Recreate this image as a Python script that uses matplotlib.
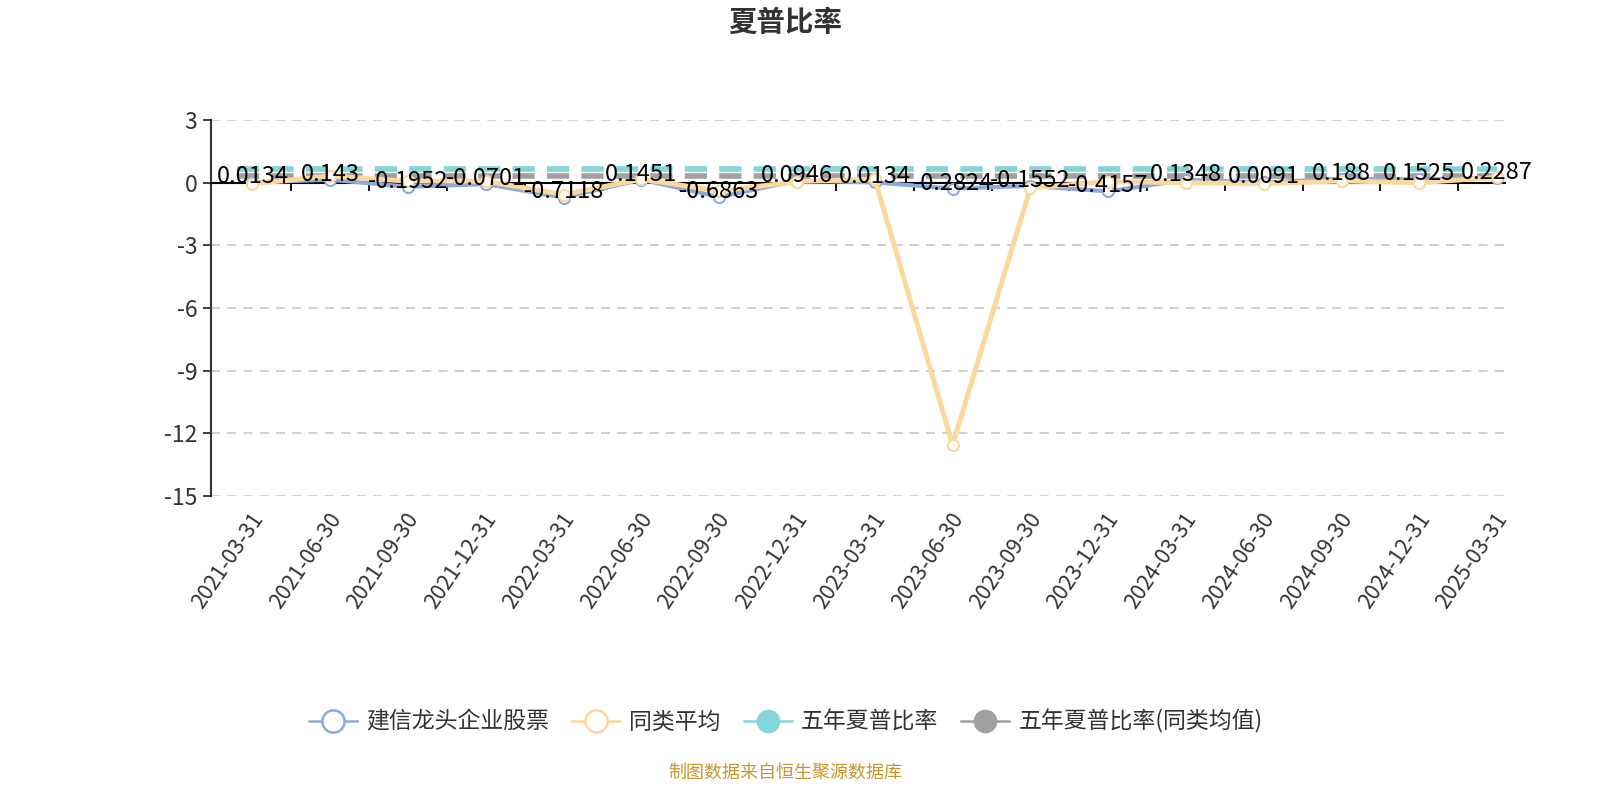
import numpy as np
import matplotlib.pyplot as plt
from matplotlib.lines import Line2D

plt.rcParams['font.family'] = ['Noto Sans CJK SC', 'DejaVu Sans']

dates = ['2021-03-31', '2021-06-30', '2021-09-30', '2021-12-31', '2022-03-31',
         '2022-06-30', '2022-09-30', '2022-12-31', '2023-03-31', '2023-06-30',
         '2023-09-30', '2023-12-31', '2024-03-31', '2024-06-30', '2024-09-30',
         '2024-12-31', '2025-03-31']
fund = [0.0134, 0.143, -0.1952, -0.0701, -0.7118, 0.1451, -0.6863, 0.0946, 0.0134,
        -0.2824, -0.1552, -0.4157, 0.1348, 0.0091, 0.188, 0.1525, 0.2287]
peer_avg = [-0.05, 0.32, 0.07, 0.07, -0.57, 0.17, -0.4, 0.05, 0.17,
            -12.55, -0.25, 0.05, 0.0, -0.05, 0.08, 0.0, 0.25]
five_year = 0.67
five_year_peer = 0.33

c_blue = '#8eaadb'
c_yellow = '#fdd89b'
c_teal = '#84d5d8'
c_gray = '#a0a0a0'
txt = '#333333'

fig = plt.figure(figsize=(16, 8), dpi=100)
ax = fig.add_axes([0.132, 0.38, 0.8086, 0.47])

x = np.arange(len(dates))
ax.plot([x[0] - 0.2, x[-1]], [five_year] * 2, color=c_teal, lw=4, dashes=(4, 2.2), zorder=2)
ax.plot([x[0] - 0.2, x[-1]], [five_year_peer] * 2, color=c_gray, lw=4, dashes=(4, 2.2), zorder=2)
ax.plot(x, fund, color=c_blue, lw=3, marker='o', ms=8, mfc='white', mec=c_blue, mew=1.5, zorder=3)
ax.plot(x, peer_avg, color=c_yellow, lw=3.5, marker='o', ms=8, mfc='white', mec=c_yellow, mew=1.5, zorder=4)

for i, v in zip(x, fund):
    ax.annotate(f'{v:g}', (i, v), xytext=(0, 4), textcoords='offset points',
                ha='center', va='center', fontsize=17, color='black', zorder=6)

ax.set_ylim(-15, 3)
ax.set_xlim(-0.53, len(dates) - 1 + 0.1)
ax.set_yticks(np.arange(-15, 4, 3))
ax.set_yticklabels([str(t) for t in range(-15, 4, 3)], fontsize=16.5, color=txt)
for t in range(-15, 4, 3):
    if t != 0:
        ax.axhline(t, color='#cccccc', lw=1.3, dashes=(5, 4), zorder=1)

ax.spines['top'].set_visible(False)
ax.spines['right'].set_visible(False)
ax.spines['left'].set_color(txt)
ax.spines['left'].set_linewidth(1.5)
ax.spines['bottom'].set_position(('data', 0))
ax.spines['bottom'].set_color('black')
ax.spines['bottom'].set_linewidth(1.5)
ax.set_xticks(x[:-1] + 0.5)
ax.set_xticklabels([])
ax.tick_params(axis='x', length=6, width=1.3, color='black')
ax.tick_params(axis='y', length=6, width=1.3, color=txt, pad=4)

for i, d in zip(x, dates):
    ax.text(i + 0.08, -0.05, d, transform=ax.get_xaxis_transform(), rotation=56,
            rotation_mode='anchor', ha='right', va='center', fontsize=15.5, color=txt)

fig.text(0.491, 0.972, '夏普比率', ha='center', va='center', fontsize=20.5, fontweight='bold', color=txt)

handles = [
    Line2D([], [], color=c_blue, lw=1.8, marker='o', ms=16, mfc='white', mec=c_blue, mew=1.8),
    Line2D([], [], color=c_yellow, lw=1.8, marker='o', ms=16, mfc='white', mec=c_yellow, mew=1.8),
    Line2D([], [], color=c_teal, lw=1.8, marker='o', ms=16, mfc=c_teal, mec=c_teal),
    Line2D([], [], color=c_gray, lw=1.8, marker='o', ms=16, mfc=c_gray, mec=c_gray),
]
labels = ['建信龙头企业股票', '同类平均', '五年夏普比率', '五年夏普比率(同类均值)']
fig.legend(handles, labels, loc='center', bbox_to_anchor=(0.491, 0.098), ncol=4, frameon=False,
           fontsize=16.5, labelcolor=txt, handlelength=2.1, handletextpad=0.4, columnspacing=1.0)

fig.text(0.491, 0.034, '制图数据来自恒生聚源数据库', ha='center', va='center', fontsize=13, color='#c8962a')

fig.savefig('out.png', dpi=100)
